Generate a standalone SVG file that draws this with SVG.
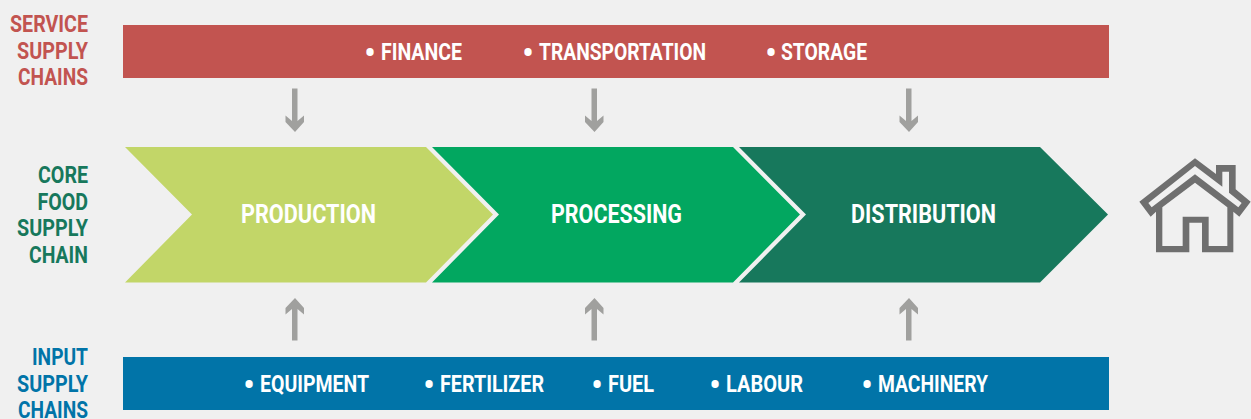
<svg xmlns="http://www.w3.org/2000/svg" width="1251" height="419" viewBox="0 0 1251 419">
<style>
text{font-family:"Roboto","Liberation Sans",sans-serif;font-weight:700;font-size:24px}
.w{fill:#fff}
.e{text-anchor:end}
.r{fill:#c25450}
.g{fill:#17785c}
.b{fill:#0174a8}
.c{font-size:25.5px}
.ar{fill:#a0a09e}
.d{font-size:36px;font-weight:400}
</style>
<rect width="1251" height="419" fill="#f0f0f0"/>
<g id="service-bar">
<rect x="123" y="25" width="986" height="53" fill="#c25450"/>
<text class="w"><tspan class="d" x="364" y="66">•</tspan><tspan x="381" y="60" textLength="81" lengthAdjust="spacingAndGlyphs">FINANCE</tspan></text>
<text class="w"><tspan class="d" x="522" y="66">•</tspan><tspan x="539" y="60" textLength="167" lengthAdjust="spacingAndGlyphs">TRANSPORTATION</tspan></text>
<text class="w"><tspan class="d" x="765" y="66">•</tspan><tspan x="781" y="60" textLength="86" lengthAdjust="spacingAndGlyphs">STORAGE</tspan></text>
</g>
<g id="input-bar">
<rect x="123" y="357" width="986" height="53" fill="#0174a8"/>
<text class="w"><tspan class="d" x="243" y="398">•</tspan><tspan x="260" y="392" textLength="109" lengthAdjust="spacingAndGlyphs">EQUIPMENT</tspan></text>
<text class="w"><tspan class="d" x="423" y="398">•</tspan><tspan x="440" y="392" textLength="104" lengthAdjust="spacingAndGlyphs">FERTILIZER</tspan></text>
<text class="w"><tspan class="d" x="591" y="398">•</tspan><tspan x="608" y="392" textLength="46" lengthAdjust="spacingAndGlyphs">FUEL</tspan></text>
<text class="w"><tspan class="d" x="709" y="398">•</tspan><tspan x="726" y="392" textLength="77" lengthAdjust="spacingAndGlyphs">LABOUR</tspan></text>
<text class="w"><tspan class="d" x="861" y="398">•</tspan><tspan x="878" y="392" textLength="110" lengthAdjust="spacingAndGlyphs">MACHINERY</tspan></text>
</g>
<g id="production">
<polygon points="125,147 426,147 493,214.500 426,282.500 125,282.500 192,214.500" fill="#c2d668"/>
<text class="w c" x="241" y="222.500" textLength="135" lengthAdjust="spacingAndGlyphs">PRODUCTION</text>
</g>
<g id="processing">
<polygon points="432,147 733,147 800,214.500 733,282.500 432,282.500 499,214.500" fill="#02a760"/>
<text class="w c" x="551" y="222.500" textLength="131" lengthAdjust="spacingAndGlyphs">PROCESSING</text>
</g>
<g id="distribution">
<polygon points="739,147 1040,147 1108,214.500 1040,282.500 739,282.500 806,214.500" fill="#17785c"/>
<text class="w c" x="851" y="222.500" textLength="145" lengthAdjust="spacingAndGlyphs">DISTRIBUTION</text>
</g>
<g id="label-service">
<text class="r e" x="88" y="32" textLength="78" lengthAdjust="spacingAndGlyphs">SERVICE</text>
<text class="r e" x="88" y="58.500" textLength="71" lengthAdjust="spacingAndGlyphs">SUPPLY</text>
<text class="r e" x="88" y="85" textLength="70" lengthAdjust="spacingAndGlyphs">CHAINS</text>
</g>
<g id="label-core">
<text class="g e" x="88" y="183" textLength="50" lengthAdjust="spacingAndGlyphs">CORE</text>
<text class="g e" x="88" y="209.500" textLength="50.500" lengthAdjust="spacingAndGlyphs">FOOD</text>
<text class="g e" x="88" y="236" textLength="71" lengthAdjust="spacingAndGlyphs">SUPPLY</text>
<text class="g e" x="88" y="262.500" textLength="59" lengthAdjust="spacingAndGlyphs">CHAIN</text>
</g>
<g id="label-input">
<text class="b e" x="88" y="365" textLength="56" lengthAdjust="spacingAndGlyphs">INPUT</text>
<text class="b e" x="88" y="391.500" textLength="71" lengthAdjust="spacingAndGlyphs">SUPPLY</text>
<text class="b e" x="88" y="417.500" textLength="70" lengthAdjust="spacingAndGlyphs">CHAINS</text>
</g>
<g id="home">
<path transform="translate(1020 130) scale(.33333)" fill="#6f6f6f" fill-rule="evenodd" d="M525,85L588,132V105H647V178L692,215L658,260L640,245V367H546V278H508V367H408V245L392,260L358,215Z M525,108L607,170V125H627V188L665,219L655,232L525,133L395,232L385,219Z M525,158L622,232V348H566V260H488V348H427V232Z"/>
</g>
<g id="connectors" class="ar">
<path id="a1" d="M292,88.500H297.500V121L304,115.500V122L295,132L285.500,122V115.500L292,121Z"/>
<path id="a2" d="M591.500,88.500H597V121L603.500,115.500V122L594.500,132L585,122V115.500L591.500,121Z"/>
<path id="a3" d="M906,88.500H911.500V121L918,115.500V122L909,132L899.500,122V115.500L906,121Z"/>
<path id="a4" d="M292,340.500H297.500V309L304,314.500V308L295,298L285.500,308V314.500L292,309Z"/>
<path id="a5" d="M591.500,340.500H597V309L603.500,314.500V308L594.500,298L585,308V314.500L591.500,309Z"/>
<path id="a6" d="M906,340.500H911.500V309L918,314.500V308L909,298L899.500,308V314.500L906,309Z"/>
</g>
</svg>
